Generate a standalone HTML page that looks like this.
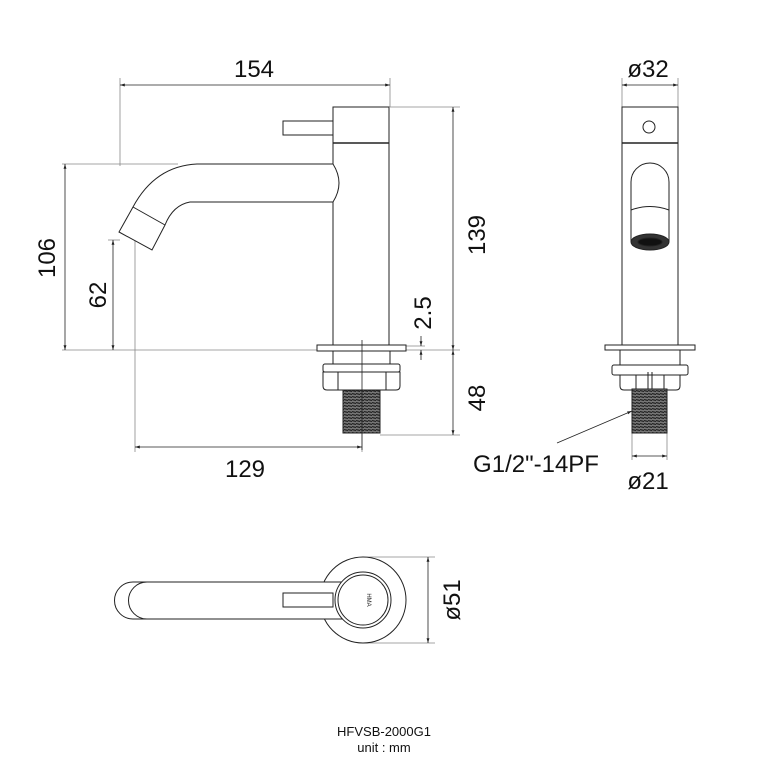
<!DOCTYPE html>
<html><head><style>html,body{margin:0;padding:0;background:#fff}svg{display:block}</style></head>
<body>
<svg width="768" height="768" viewBox="0 0 768 768" xmlns="http://www.w3.org/2000/svg" font-family="Liberation Sans, sans-serif">
<defs>
<marker id="a" viewBox="0 0 10 10" refX="10" refY="5" markerWidth="6" markerHeight="6" orient="auto-start-reverse"><path d="M0,2 L10,5 L0,8z" fill="#222"/></marker>
<pattern id="th" width="4" height="3" patternUnits="userSpaceOnUse"><rect width="4" height="3" fill="#777"/><path d="M0,0.5 L4,1.5" stroke="#222" stroke-width="1.2"/></pattern>
</defs>
<g fill="none" stroke="#888" stroke-width="0.8">
<line x1="120" y1="78" x2="120" y2="166"/>
<line x1="390" y1="78" x2="390" y2="107"/>
<line x1="62" y1="164" x2="178" y2="164"/>
<line x1="62" y1="350" x2="460" y2="350"/>
<line x1="108" y1="240" x2="120" y2="240"/>
<line x1="135" y1="240" x2="135" y2="452"/>
<line x1="362" y1="340" x2="362" y2="452"/>
<line x1="390" y1="107" x2="460" y2="107"/>
<line x1="380" y1="435" x2="460" y2="435"/>
<line x1="406" y1="346" x2="425" y2="346"/>
<line x1="622" y1="78" x2="622" y2="107"/>
<line x1="678" y1="78" x2="678" y2="107"/>
<line x1="632" y1="433" x2="632" y2="460"/>
<line x1="667" y1="433" x2="667" y2="460"/>
<line x1="363" y1="557" x2="435" y2="557"/>
<line x1="363" y1="643" x2="435" y2="643"/>
</g>
<g stroke="#222" stroke-width="0.8" fill="none">
<line x1="120" y1="85" x2="390" y2="85" marker-start="url(#a)" marker-end="url(#a)"/>
<line x1="65" y1="164" x2="65" y2="350" marker-start="url(#a)" marker-end="url(#a)"/>
<line x1="113" y1="240" x2="113" y2="350" marker-start="url(#a)" marker-end="url(#a)"/>
<line x1="135" y1="447" x2="362" y2="447" marker-start="url(#a)" marker-end="url(#a)"/>
<line x1="453" y1="107" x2="453" y2="350" marker-start="url(#a)" marker-end="url(#a)"/>
<line x1="453" y1="350" x2="453" y2="435" marker-start="url(#a)" marker-end="url(#a)"/>
<line x1="421" y1="336" x2="421" y2="346" marker-end="url(#a)"/>
<line x1="421" y1="360" x2="421" y2="350" marker-end="url(#a)"/>
<line x1="622" y1="85" x2="678" y2="85" marker-start="url(#a)" marker-end="url(#a)"/>
<line x1="632" y1="456" x2="667" y2="456" marker-start="url(#a)" marker-end="url(#a)"/>
<line x1="428" y1="557" x2="428" y2="643" marker-start="url(#a)" marker-end="url(#a)"/>
<line x1="557" y1="443" x2="632" y2="411" marker-end="url(#a)"/>
</g>
<g fill="#111" font-size="24">
<text x="254" y="77" text-anchor="middle">154</text>
<text x="648" y="77" text-anchor="middle">ø32</text>
<text x="245" y="477" text-anchor="middle">129</text>
<text x="648" y="489" text-anchor="middle">ø21</text>
<text x="536" y="472" text-anchor="middle">G1/2"-14PF</text>
<text transform="translate(55,258) rotate(-90)" text-anchor="middle">106</text>
<text transform="translate(106,295) rotate(-90)" text-anchor="middle">62</text>
<text transform="translate(485,235) rotate(-90)" text-anchor="middle">139</text>
<text transform="translate(431,313) rotate(-90)" text-anchor="middle">2.5</text>
<text transform="translate(485,398) rotate(-90)" text-anchor="middle">48</text>
<text transform="translate(460,600) rotate(-90)" text-anchor="middle">ø51</text>
<text x="384" y="736" text-anchor="middle" font-size="13">HFVSB-2000G1</text>
<text x="384" y="752" text-anchor="middle" font-size="13">unit : mm</text>
</g>
<g stroke="#222" stroke-width="1" fill="#fff">
<rect x="283" y="121" width="50" height="14"/>
<rect x="333" y="107" width="56" height="240"/>
<line x1="333" y1="143" x2="389" y2="143" stroke-width="1.6"/>
<path d="M197,164 L333,164 Q345,183 333,202 L190,202 Q173,205 165,225 L152,250 L119,232 L133,207 Q155,166 197,164 Z"/>
<line x1="133" y1="207" x2="165" y2="225"/>
<rect x="317" y="345" width="89" height="6"/>
<rect x="333" y="351" width="57" height="13"/>
<rect x="323" y="364" width="77" height="8" rx="2"/>
<path d="M323,372 L400,372 L400,386 Q400,390 396,390 L327,390 Q323,390 323,386 Z"/>
<line x1="338" y1="372" x2="338" y2="390"/><line x1="386" y1="372" x2="386" y2="390"/>
<rect x="343" y="390" width="37" height="43" fill="url(#th)"/>
<line x1="362" y1="340" x2="362" y2="450" stroke-width="0.8"/>
</g>
<g stroke="#222" stroke-width="1" fill="#fff">
<rect x="622" y="107" width="56" height="240"/>
<line x1="622" y1="143" x2="678" y2="143" stroke-width="1.6"/>
<circle cx="649" cy="127" r="6"/>
<path d="M631,242 L631,182 A19,19 0 0 1 669,182 L669,242"/>
<path d="M631,210 Q650,203 669,210" fill="none"/>
<ellipse cx="650" cy="242" rx="19" ry="8" fill="#333"/>
<ellipse cx="650" cy="242" rx="12" ry="4" fill="#111"/>
<rect x="605" y="345" width="90" height="5"/>
<rect x="620" y="350" width="60" height="15"/>
<rect x="612" y="365" width="76" height="10" rx="2"/>
<path d="M620,375 L680,375 L680,386 Q680,390 676,390 L624,390 Q620,390 620,386 Z"/>
<line x1="636" y1="375" x2="636" y2="390"/><line x1="664" y1="375" x2="664" y2="390"/>
<line x1="648" y1="372" x2="648" y2="390"/><line x1="652" y1="372" x2="652" y2="390"/>
<rect x="632" y="389" width="35" height="44" fill="url(#th)"/>
</g>
<g stroke="#222" stroke-width="1" fill="#fff">
<circle cx="363" cy="600" r="43"/>
<path d="M133,582 L350,582 L350,619 L133,619 A18.5,18.5 0 0 1 133,582 Z"/>
<path d="M147,582 A18.5,18.5 0 0 0 147,619" fill="none"/>
<rect x="283" y="593" width="50" height="14"/>
<circle cx="363" cy="600" r="28"/>
<circle cx="363" cy="600" r="25"/>
<text x="367" y="600" font-size="6" fill="#222" stroke="none" transform="rotate(90 367 600)" text-anchor="middle">HMA</text>
</g>
</svg>
</body></html>
